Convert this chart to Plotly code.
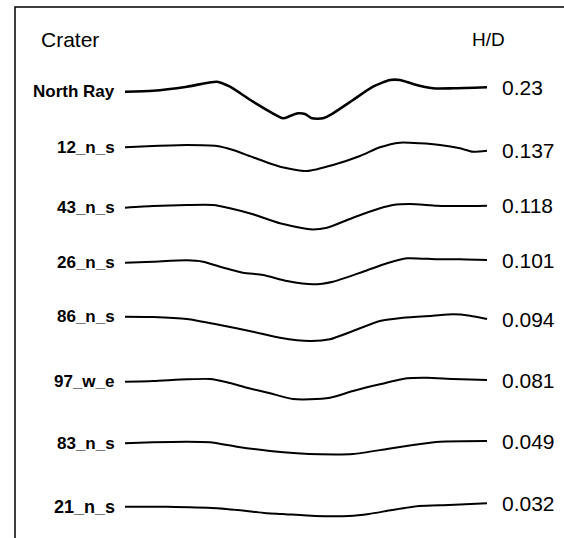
import plotly.graph_objects as go

# ---- data: crater names, H/D ratios, and traced profiles ----
craters = ["North Ray", "12_n_s", "43_n_s", "26_n_s", "86_n_s", "97_w_e", "83_n_s", "21_n_s"]
hd_labels = ["0.23", "0.137", "0.118", "0.101", "0.094", "0.081", "0.049", "0.032"]

# horizontal distance (arbitrary units, 0..362) and relative elevation (arbitrary units)
north_ray_x = [0, 28, 62, 92, 105, 128, 158, 165, 173, 180, 187, 198, 208, 228, 248, 265, 275, 288, 308, 328, 362]
north_ray_z = [0, 1.0, 5.0, 10.0, 5.0, -10.0, -26.6, -24.3, -21.6, -22.3, -26.6, -26.6, -21.6, -8.3, 5.0, 11.7, 11.7, 7.7, 3.4, 3.4, 4.4]

c12_x = [0, 28, 62, 92, 108, 128, 155, 182, 208, 235, 255, 275, 295, 315, 335, 348, 362]
c12_z = [0, 1.3, 2.3, 1.3, -2.7, -10, -19.4, -23.7, -17.7, -8.7, 0, 4.6, 4, 2.3, -1, -4.4, -3.4]

c43_x = [0, 28, 62, 88, 105, 128, 155, 185, 202, 228, 255, 268, 285, 312, 335, 362]
c43_z = [0, 1.7, 2.7, 2.7, -0.6, -6.6, -15.6, -21.6, -20, -10, -0.6, 2.7, 3.7, 2, 1.7, 2]

c26_x = [0, 28, 62, 78, 95, 118, 138, 162, 188, 208, 238, 262, 282, 312, 335, 362]
c26_z = [0, 1, 2.4, 1, -4, -10, -12.3, -18.3, -21.6, -19, -9, -0.6, 4.4, 3.4, 3.4, 2.7]

c86_x = [0, 28, 62, 95, 128, 155, 185, 205, 228, 255, 278, 308, 328, 345, 362]
c86_z = [0, -0.3, -2.3, -8.3, -15, -21, -24.3, -22.6, -14.3, -4.3, -1, 1, 2.4, 1, -2.3]

c97_x = [0, 28, 62, 85, 102, 122, 145, 168, 185, 205, 228, 255, 282, 302, 328, 362]
c97_z = [0, 0.7, 2.4, 2.7, -0.6, -6, -11.6, -17.3, -17.6, -16, -9.3, -2.6, 3.4, 4, 2.7, 1.7]

c83_x = [0, 28, 62, 85, 112, 145, 172, 195, 228, 262, 288, 315, 362]
c83_z = [0, 1, 1.6, 1, -3.4, -7.7, -10, -11, -10.7, -5.7, -1.7, 1.6, 2.3]

c21_x = [0, 42, 92, 128, 142, 157, 190, 224, 244, 267, 294, 324, 362]
c21_z = [0, 0, -1.6, -5, -6.6, -7.3, -9.3, -9.3, -7.3, -3.3, 0.7, 1.7, 3.4]

profiles_x = [north_ray_x, c12_x, c43_x, c26_x, c86_x, c97_x, c83_x, c21_x]
profiles_z = [north_ray_z, c12_z, c43_z, c26_z, c86_z, c97_z, c83_z, c21_z]

# ---- layout: vertical placement of each stacked profile (screen units, down) ----
row_y = [91.7, 147.3, 207.7, 262.7, 316.7, 381.7, 443.3, 506.7]
line_widths = [2.6, 2, 2, 2, 2, 2, 2, 2]
label_sizes = [17, 17, 17, 17, 17, 17, 17, 18]

FONT = "Liberation Sans, Arial, sans-serif"

fig = go.Figure()
for i, name in enumerate(craters):
    fig.add_trace(go.Scatter(
        x=profiles_x[i],
        y=[row_y[i] - z for z in profiles_z[i]],
        mode="lines",
        line=dict(color="black", width=line_widths[i], shape="spline", smoothing=0.6),
        hoverinfo="skip",
        showlegend=False,
    ))
    fig.add_annotation(x=-8, y=row_y[i], text="<b>" + name + "</b>", showarrow=False,
                       xanchor="right", yanchor="middle",
                       font=dict(family=FONT, size=label_sizes[i], color="black"))
    fig.add_annotation(x=375, y=row_y[i] - profiles_z[i][-1], text=hd_labels[i], showarrow=False,
                       xanchor="left", yanchor="middle",
                       font=dict(family=FONT, size=21, color="black"))

fig.add_annotation(x=-86, y=39, text="Crater", showarrow=False, xanchor="left", yanchor="middle",
                   font=dict(family=FONT, size=21, color="black"))
fig.add_annotation(x=345, y=39, text="H/D", showarrow=False, xanchor="left", yanchor="middle",
                   font=dict(family=FONT, size=19, color="black"))

# frame (left and top edges of the panel)
fig.add_shape(type="path", xref="paper", yref="paper",
              path="M 0.0266 -0.01 L 0.0266 0.987 L 1.01 0.987",
              line=dict(color="black", width=1.5))

fig.update_layout(
    width=564, height=538,
    margin=dict(l=0, r=0, t=0, b=0),
    paper_bgcolor="white", plot_bgcolor="white",
    xaxis=dict(range=[-125, 439], visible=False, fixedrange=True),
    yaxis=dict(range=[538, 0], visible=False, fixedrange=True),
)

fig.write_html("out.html", config={"displayModeBar": False},
               post_script="document.body.style.margin='0';document.body.style.overflow='hidden';")
